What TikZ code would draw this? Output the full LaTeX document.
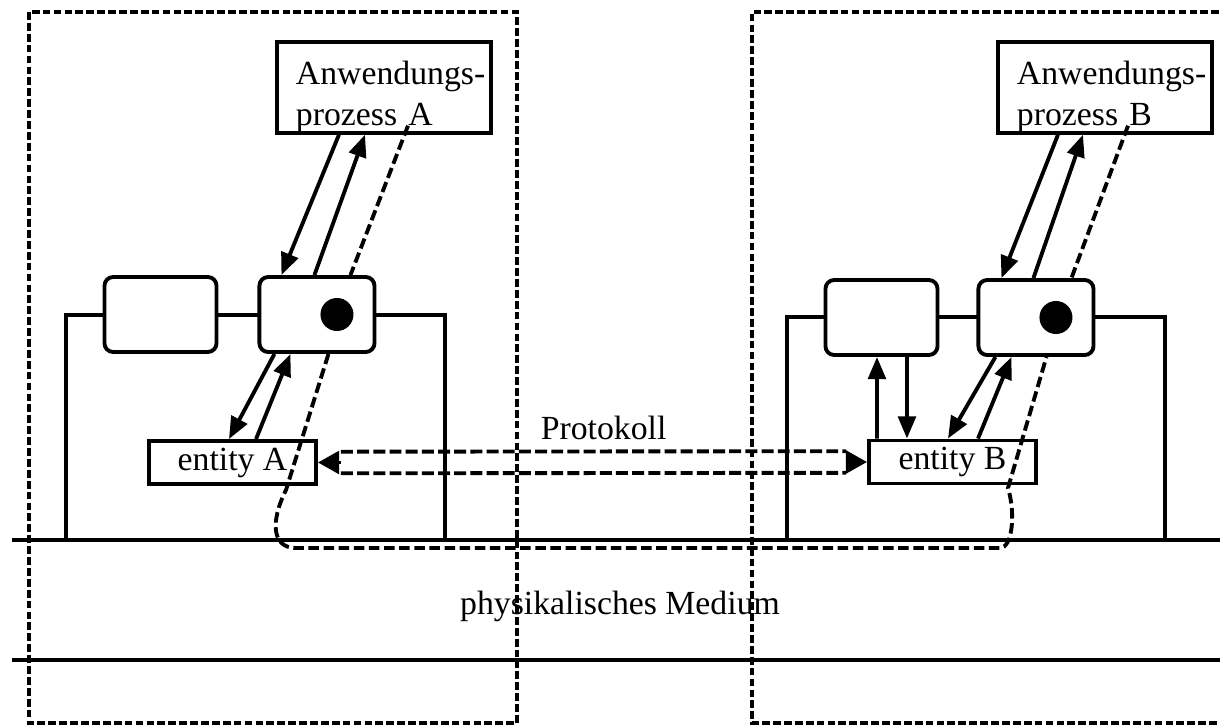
\documentclass[tikz,border=0pt]{standalone}
\usepackage{fontspec}
\setmainfont{Liberation Serif}
\usetikzlibrary{positioning,arrows.meta}

\begin{document}
\begin{tikzpicture}[
  x=0.01cm, y=-0.01cm,
  font=\fontsize{9.6}{11.6}\selectfont,
  zone/.style={line width=1pt, dash pattern=on 2.2pt off 0.9pt},
  wire/.style={line width=1pt},
  roundbox/.style={rectangle, rounded corners=2.5pt, draw, line width=1.1pt, fill=white, minimum width=1.12cm, minimum height=0.75cm},
  sapbox/.style={roundbox, minimum width=1.15cm},
  sapdot/.style={circle, fill=black, minimum size=0.33cm, inner sep=0pt},
  procbox/.style={rectangle, draw, line width=1.1pt, align=left, text width=2.04cm, inner xsep=0.05cm, inner ysep=0pt},
  entbox/.style={rectangle, draw, line width=1.1pt, minimum width=1.67cm, minimum height=0.43cm, inner sep=0pt},
  flow/.style={line width=1.1pt, -{Triangle[length=6.3pt,width=5pt]}},
  tracepath/.style={line width=1.1pt, dash pattern=on 3pt off 1.3pt},
  protoline/.style={line width=1.1pt, dash pattern=on 3.4pt off 1.2pt},
  protohead/.style={line width=1.1pt, -{Triangle[length=6pt,width=6.4pt]}},
]
\useasboundingbox (0,0) rectangle (1220,727);
\clip (0,0) rectangle (1220,727);

% open systems
\draw[zone] (29,12) rectangle (517,723);
\draw[zone] (1230,12) -- (752,12) -- (752,723) -- (1230,723);

% medium and layers
\draw[wire] (12,540) -- (1230,540);
\draw[wire] (12,660) -- (1230,660);
\draw[wire] (66,540) |- (445,315) -- (445,540);
\draw[wire] (787,540) |- (1165,317) -- (1165,540);

\node(boxA) [roundbox] at (160.5,314.5){};
\node(sapA) [sapbox,right=0.39cm of boxA]{};
\node(dotA) [sapdot] at ([xshift=0.2cm]sapA.center){};
\node(pA) [procbox] at (384,87.5){\noindent\hspace*{0.14cm}\rule{0pt}{12.1pt}Anwendungs-\\\hspace*{0.14cm}prozess A};
\node(entA) [entbox] at (232.5,462.5){entity A};

\node(boxB) [roundbox] at (881.5,317.5){};
\node(sapB) [sapbox,right=0.37cm of boxB]{};
\node(dotB) [sapdot] at ([xshift=0.2cm]sapB.center){};
\node(pB) [procbox] at (1105,87.5){\noindent\hspace*{0.14cm}\rule{0pt}{12.1pt}Anwendungs-\\\hspace*{0.14cm}prozess B};
\node(entB) [entbox] at (952.5,462){entity B};

\node(medium) at (620,606){physikalisches Medium};

\draw[flow] ([xshift=-0.45cm]pA.south) -- ([xshift=-0.355cm]sapA.north);
\draw[flow] ([xshift=-0.025cm]sapA.north) -- ([xshift=-0.19cm]pA.south);
\draw[tracepath] ([xshift=0.24cm,yshift=0.09cm]pA.south) -- ([xshift=0.335cm]sapA.north);
\draw[flow] ([xshift=-0.425cm]sapA.south) -- ([xshift=-0.035cm]entA.north);
\draw[flow] ([xshift=0.235cm]entA.north) -- ([xshift=-0.265cm]sapA.south);

\draw[flow] ([xshift=-0.47cm]pB.south) -- ([xshift=-0.345cm]sapB.north);
\draw[flow] ([xshift=-0.025cm]sapB.north) -- ([xshift=-0.22cm]pB.south);
\draw[tracepath] ([xshift=0.23cm,yshift=0.09cm]pB.south) -- ([xshift=0.355cm]sapB.north);
\draw[flow] ([xshift=-0.405cm]sapB.south) -- ([xshift=-0.045cm]entB.north);
\draw[flow] ([xshift=0.255cm]entB.north) -- ([xshift=-0.245cm]sapB.south);
\draw[flow] ([xshift=-0.755cm]entB.north) -- ([xshift=-0.045cm]boxB.south);
\draw[flow] ([xshift=0.255cm]boxB.south) -- ([xshift=-0.455cm]entB.north);

\coordinate (bendA) at (286,490);
\coordinate (floorA) at (296,548);
\coordinate (floorB) at (1000,548);
\coordinate (bendB) at (1008,488);
\draw[tracepath] ([xshift=0.115cm]sapA.south) -- (bendA)
    .. controls (270,522) and (272,548) .. (floorA) -- (floorB)
    .. controls (1012,548) and (1016,515) .. (bendB) -- ([xshift=0.105cm]sapB.south);

\draw[protoline] ([xshift=0.23cm,yshift=0.108cm]entA.east)
    -- ([xshift=-0.21cm,yshift=0.108cm]entB.west) node[pos=0.52,above=-0.5pt]{Protokoll};
\draw[protoline] ([xshift=0.23cm,yshift=-0.108cm]entA.east) -- ([xshift=-0.21cm,yshift=-0.108cm]entB.west);
\draw[protohead] ([xshift=0.23cm]entA.east) -- (entA.east);
\draw[protohead] ([xshift=-0.21cm]entB.west) -- (entB.west);

\end{tikzpicture}
\end{document}
